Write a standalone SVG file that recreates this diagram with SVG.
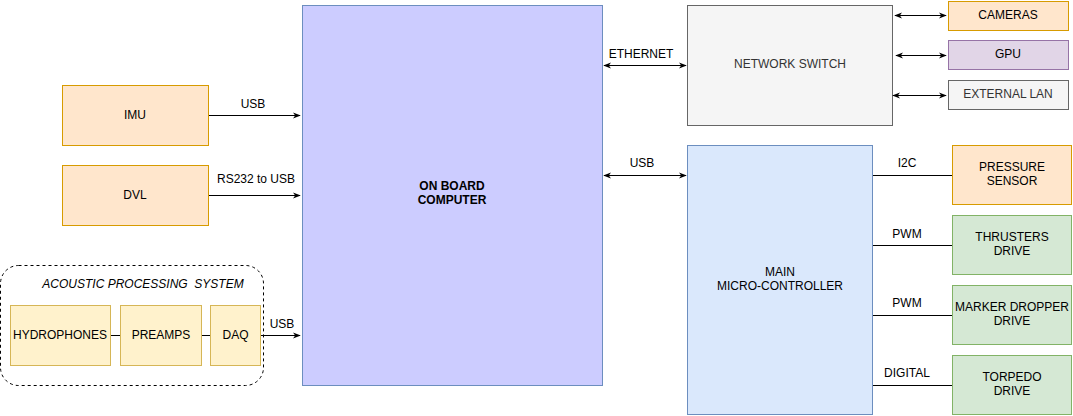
<svg xmlns="http://www.w3.org/2000/svg" width="1073" height="416" viewBox="0 0 1073 416">
<defs>
<marker id="ae" viewBox="0 0 10 10" refX="9" refY="5" markerWidth="8" markerHeight="8" markerUnits="userSpaceOnUse" orient="auto-start-reverse"><path d="M0,1 L10,5 L0,9 L3,5 Z" fill="#000"/></marker>
<style>
text{font-family:"Liberation Sans",Arial,Helvetica,sans-serif;font-size:12px;fill:#000;text-anchor:middle}
.orange{fill:#ffe6cc;stroke:#d79b00}
.yellow{fill:#fff2cc;stroke:#d6b656}
.green{fill:#d5e8d4;stroke:#82b366}
.blue{fill:#dae8fc;stroke:#6c8ebf}
.purple{fill:#e1d5e7;stroke:#9673a6}
.grey{fill:#f5f5f5;stroke:#666666}
.obc{fill:#ccccff;stroke:#6c8ebf}
.ln{stroke:#000;stroke-width:1;fill:none}
.arr{marker-end:url(#ae)}
.bi{marker-start:url(#ae);marker-end:url(#ae)}
</style>
</defs>
<rect width="1073" height="416" fill="#fff"/>
<g id="acoustic-system">
<rect x="0.5" y="265.5" width="263" height="120" rx="18" fill="none" stroke="#000" stroke-dasharray="3,3"/>
<text x="143" y="288" font-style="italic">ACOUSTIC PROCESSING&#160; SYSTEM</text>
</g>
<g id="onboard-computer"><rect class="obc" x="302.5" y="5.5" width="300" height="380"/><text x="452" y="190" font-weight="bold" font-size="11">ON BOARD</text><text x="452" y="204" font-weight="bold" font-size="11">COMPUTER</text></g>
<g id="imu"><rect class="orange" x="62.5" y="85.5" width="146" height="60"/><text x="135" y="119">IMU</text></g>
<g id="dvl"><rect class="orange" x="62.5" y="165.5" width="146" height="60"/><text x="135" y="199">DVL</text></g>
<g id="hydrophones"><rect class="yellow" x="10.5" y="305.5" width="100" height="60"/><text x="60" y="339">HYDROPHONES</text></g>
<g id="preamps"><rect class="yellow" x="120.5" y="305.5" width="81" height="60"/><text x="161" y="339">PREAMPS</text></g>
<g id="daq"><rect class="yellow" x="210.5" y="305.5" width="50" height="60"/><text x="235.5" y="339">DAQ</text></g>
<g id="network-switch"><rect class="grey" x="687.5" y="5.5" width="205" height="120"/><text x="790" y="68" style="fill:#333">NETWORK SWITCH</text></g>
<g id="cameras"><rect class="orange" x="948.5" y="1.5" width="120" height="29"/><text x="1008" y="19">CAMERAS</text></g>
<g id="gpu"><rect class="purple" x="948.5" y="40.5" width="120" height="29"/><text x="1008" y="58">GPU</text></g>
<g id="external-lan"><rect class="grey" x="948.5" y="80.5" width="120" height="29"/><text x="1008" y="98" style="fill:#333">EXTERNAL LAN</text></g>
<g id="main-microcontroller"><rect class="blue" x="687.5" y="145.5" width="185" height="269"/><text x="780" y="276">MAIN</text><text x="780" y="290">MICRO-CONTROLLER</text></g>
<g id="pressure-sensor"><rect class="orange" x="952.5" y="145.5" width="119" height="59"/><text x="1012" y="171">PRESSURE</text><text x="1012" y="185">SENSOR</text></g>
<g id="thrusters-drive"><rect class="green" x="952.5" y="215.5" width="119" height="59"/><text x="1012" y="241">THRUSTERS</text><text x="1012" y="255">DRIVE</text></g>
<g id="marker-dropper-drive"><rect class="green" x="952.5" y="285.5" width="119" height="59"/><text x="1012" y="311">MARKER DROPPER</text><text x="1012" y="325">DRIVE</text></g>
<g id="torpedo-drive"><rect class="green" x="952.5" y="355.5" width="119" height="59"/><text x="1012" y="381">TORPEDO</text><text x="1012" y="395">DRIVE</text></g>
<g id="connectors">
<line class="ln arr" x1="209" y1="115.5" x2="300" y2="115.5"/>
<text x="253" y="108">USB</text>
<line class="ln arr" x1="209" y1="195.5" x2="300" y2="195.5"/>
<text x="256" y="183">RS232 to USB</text>
<line class="ln" x1="111" y1="335.5" x2="120" y2="335.5"/>
<line class="ln" x1="202" y1="335.5" x2="210" y2="335.5"/>
<line class="ln arr" x1="261" y1="335.5" x2="300" y2="335.5"/>
<text x="282" y="328">USB</text>
<line class="ln bi" x1="604" y1="65.5" x2="686" y2="65.5"/>
<text x="641" y="58">ETHERNET</text>
<line class="ln bi" x1="604" y1="175.5" x2="686" y2="175.5"/>
<text x="642" y="167">USB</text>
<line class="ln bi" x1="895" y1="15.5" x2="946" y2="15.5"/>
<line class="ln bi" x1="896" y1="55.5" x2="946" y2="55.5"/>
<line class="ln bi" x1="893" y1="95.5" x2="946" y2="95.5"/>
<line class="ln" x1="873" y1="175.5" x2="952" y2="175.5"/>
<text x="907" y="167">I2C</text>
<line class="ln" x1="873" y1="245.5" x2="952" y2="245.5"/>
<text x="907" y="238">PWM</text>
<line class="ln" x1="873" y1="315.5" x2="952" y2="315.5"/>
<text x="907" y="307">PWM</text>
<line class="ln" x1="873" y1="385.5" x2="952" y2="385.5"/>
<text x="907" y="377">DIGITAL</text>
</g>
</svg>
